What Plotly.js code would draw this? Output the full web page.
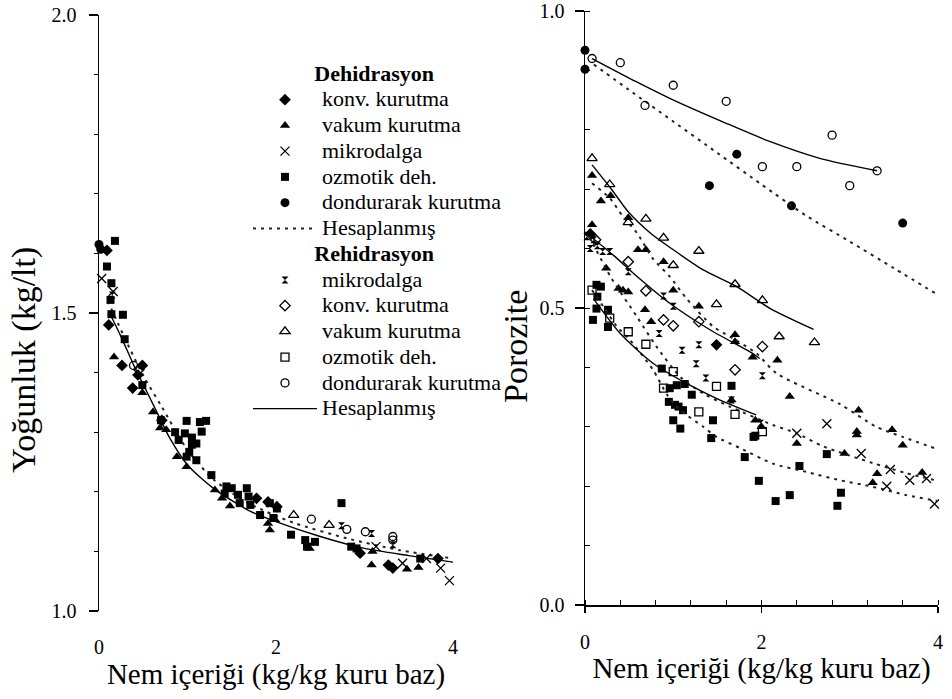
<!DOCTYPE html>
<html><head><meta charset="utf-8">
<script src="https://cdn.plot.ly/plotly-3.0.1.min.js"></script>
<style>html,body{margin:0;padding:0;background:#fff}#chart{width:952px;height:699px}</style>
</head><body><div id="chart"></div>
<script>
// ---------- LEFT PANEL: Yoğunluk (kg/lt) ----------
const L_dehKonvX = [0.09,0.11,0.26,0.49,0.44,0.38,0.71,1.78,1.91,2.01,2.95,3.27,3.32,3.83];
const L_dehKonvY = [1.605,1.480,1.412,1.412,1.396,1.374,1.320,1.189,1.183,1.175,1.097,1.077,1.072,1.088];
const L_dehVakumX = [0.17,0.49,0.61,0.69,0.76,0.88,0.99,1.31,1.39,1.48,1.91,1.93,1.99,2.38,3.09,3.08,3.48,3.61];
const L_dehVakumY = [1.426,1.366,1.334,1.307,1.304,1.259,1.242,1.203,1.189,1.176,1.147,1.136,1.153,1.105,1.100,1.077,1.070,1.073];
const L_dehMikroX = [0.03,0.16,3.13,3.43,3.70,3.86,3.96];
const L_dehMikroY = [1.558,1.536,1.108,1.080,1.088,1.072,1.051];
const L_dehOzmoX = [0.18,0.09,0.14,0.13,0.14,0.27,0.29,0.49,0.70,0.99,1.14,1.21,1.16,0.86,0.97,1.05,0.90,1.05,1.10,1.02,0.99,1.10,1.27,1.44,1.50,1.67,1.42,1.57,1.69,1.59,1.71,1.93,2.01,1.82,1.97,2.17,2.33,2.44,2.35,2.74,2.85,2.91,3.63];
const L_dehOzmoY = [1.621,1.578,1.550,1.522,1.498,1.497,1.456,1.379,1.320,1.319,1.317,1.319,1.301,1.300,1.298,1.291,1.287,1.279,1.281,1.267,1.259,1.253,1.228,1.209,1.206,1.206,1.197,1.195,1.192,1.181,1.178,1.181,1.172,1.161,1.156,1.128,1.119,1.116,1.108,1.181,1.108,1.105,1.088];
const L_dehDondX = [0.0,0.02];
const L_dehDondY = [1.615,1.607];
const L_rehMikroX = [0.15,2.74,3.08,3.32];
const L_rehMikroY = [1.53,1.143,1.130,1.111];
const L_rehKonvX = [0.45];
const L_rehKonvY = [1.405];
const L_rehVakumX = [2.20,2.60];
const L_rehVakumY = [1.161,1.144];
const L_rehDondX = [0.39,2.40,2.80,3.01,3.32,3.32];
const L_rehDondY = [1.412,1.154,1.137,1.133,1.125,1.119];
const L_calcRehX = [0.12,0.25,0.4,0.5,0.65,0.8,1.0,1.3,1.7,2.0,2.5,3.0,3.5,4.0];
const L_calcRehY = [1.50,1.46,1.41,1.38,1.335,1.29,1.245,1.205,1.168,1.150,1.125,1.105,1.093,1.082];
const L_calcDehX = [0.1,0.3,0.5,0.7,1.0,1.3,1.7,2.2,2.8,3.4,4.0];
const L_calcDehY = [1.52,1.455,1.395,1.345,1.27,1.22,1.18,1.148,1.122,1.102,1.088];

// ---------- RIGHT PANEL: Porozite ----------
const R_dehKonvX = [0.06,1.49];
const R_dehKonvY = [0.625,0.438];
const R_dehVakumX = [0.08,0.18,0.29,0.49,0.60,0.69,0.08,0.24,0.89,0.38,0.43,0.49,1.00,1.29,0.68,0.75,1.70,1.70,1.90,2.18,1.66,1.93,2.32,3.10,3.08,3.08,3.48,3.60,2.00,2.40,2.94,3.31,3.82,3.26];
const R_dehVakumY = [0.723,0.680,0.689,0.652,0.598,0.598,0.640,0.567,0.578,0.533,0.530,0.527,0.530,0.503,0.497,0.477,0.455,0.443,0.417,0.412,0.345,0.311,0.351,0.328,0.292,0.286,0.295,0.269,0.300,0.272,0.255,0.221,0.223,0.206];
const R_dehMikroX = [2.74,3.13,3.46,3.68,3.87,3.42,3.96,2.40];
const R_dehMikroY = [0.305,0.255,0.228,0.210,0.213,0.200,0.170,0.289];
const R_dehOzmoX = [0.13,0.18,0.14,0.13,0.26,0.09,0.26,0.87,0.96,1.04,1.13,1.21,0.95,1.02,1.06,1.11,1.00,1.08,1.66,1.45,1.93,1.43,1.91,1.81,1.97,2.16,2.32,2.74,2.43,2.90,2.86];
const R_dehOzmoY = [0.539,0.536,0.519,0.499,0.497,0.480,0.468,0.398,0.365,0.370,0.372,0.354,0.342,0.337,0.334,0.328,0.311,0.297,0.369,0.311,0.285,0.281,0.283,0.249,0.209,0.175,0.185,0.254,0.234,0.189,0.167];
const R_dehDondX = [0.0,0.0,1.72,1.41,2.34,3.60];
const R_dehDondY = [0.934,0.902,0.759,0.706,0.672,0.643];
const R_rehMikroX = [0.02,0.06,0.10,0.14,0.20,0.28,0.49,0.89,1.00,0.84,1.29,1.10,1.26,1.37,2.01,1.66,1.99];
const R_rehMikroY = [0.620,0.600,0.615,0.605,0.595,0.595,0.561,0.520,0.503,0.457,0.438,0.429,0.406,0.382,0.386,0.345,0.306];
const R_rehKonvX = [0.49,0.69,0.89,1.00,1.29,1.70,2.01,0.12];
const R_rehKonvY = [0.578,0.529,0.480,0.470,0.477,0.396,0.435,0.615];
const R_rehVakumX = [0.08,0.28,0.49,0.69,0.89,1.29,1.00,1.49,1.70,2.01,2.20,2.60];
const R_rehVakumY = [0.752,0.708,0.644,0.650,0.618,0.596,0.572,0.506,0.540,0.513,0.452,0.442];
const R_rehOzmoX = [0.08,0.28,0.49,0.69,1.00,0.89,1.49,1.29,1.70,2.01];
const R_rehOzmoY = [0.530,0.483,0.460,0.439,0.393,0.365,0.368,0.325,0.321,0.292];
const R_rehDondX = [0.08,0.40,1.00,0.68,1.60,2.80,2.01,2.40,3.31,3.00];
const R_rehDondY = [0.920,0.913,0.875,0.841,0.848,0.791,0.738,0.738,0.731,0.706];
const R_calcDehDondX = [0.1,0.5,1.0,1.5,2.0,2.5,3.0,3.5,4.0];
const R_calcDehDondY = [0.910,0.867,0.814,0.761,0.708,0.656,0.612,0.567,0.522];
const R_calcDehVakumX = [0.08,0.28,0.43,0.59,0.77,0.96,1.15,1.45,1.64,1.94,2.17,2.89,3.30,3.60,4.0];
const R_calcDehVakumY = [0.71,0.685,0.654,0.626,0.583,0.553,0.516,0.469,0.452,0.424,0.390,0.338,0.300,0.283,0.262];
const R_calcDehMikroX = [0.05,0.3,0.59,0.81,1.08,1.34,1.64,2.13,2.40,2.70,3.26,3.64,4.0];
const R_calcDehMikroY = [0.62,0.55,0.485,0.435,0.384,0.356,0.334,0.303,0.289,0.267,0.239,0.222,0.209];
const R_calcDehOzmoX = [0.08,0.21,0.36,0.51,0.77,0.93,1.08,1.34,1.49,1.76,2.13,2.51,2.89,3.26,3.64,4.0];
const R_calcDehOzmoY = [0.53,0.502,0.469,0.446,0.396,0.354,0.328,0.300,0.283,0.264,0.238,0.224,0.210,0.199,0.185,0.175];
const R_calcRehDondX = [0.08,0.58,0.96,1.60,2.10,2.66,3.31];
const R_calcRehDondY = [0.920,0.881,0.853,0.811,0.780,0.752,0.731];
const R_calcRehVakumX = [0.08,0.3,0.49,0.75,1.0,1.34,1.72,2.10,2.59];
const R_calcRehVakumY = [0.741,0.70,0.662,0.625,0.598,0.564,0.536,0.499,0.464];
const R_calcRehMikroX = [0.0,0.32,0.59,0.96,1.42,1.87,1.98];
const R_calcRehMikroY = [0.628,0.589,0.553,0.508,0.463,0.426,0.415];
const R_calcRehOzmoX = [0.1,0.40,0.77,1.15,1.53,1.94];
const R_calcRehOzmoY = [0.515,0.457,0.407,0.373,0.345,0.320];

// ---------- Tick labels & texts ----------
const xTickVals = [0,2,4];
const xTickText = ['0','2','4'];
const yLeftTickVals = [1.0,1.5,2.0];
const yLeftTickText = ['1.0','1.5','2.0'];
const yRightTickVals = [0.0,0.5,1.0];
const yRightTickText = ['0.0','0.5','1.0'];
const groupNames = ['Dehidrasyon','Rehidrasyon'];
const seriesNames = {konv:'konv. kurutma', vakum:'vakum kurutma', mikro:'mikrodalga', ozmo:'ozmotik deh.', dond:'dondurarak kurutma', calc:'Hesaplanmış'};
const xTitle = 'Nem içeriği (kg/kg kuru baz)';
const yLeftTitle = 'Yoğunluk (kg/lt)';
const yRightTitle = 'Porozite';

const FONT = 'Liberation Serif, "Times New Roman", serif';
const BIG = s => '<span style="font-size:22px">' + s + '</span>';
const NB = n => '\u00a0'.repeat(n);
const PAD = n => '<span>' + NB(n) + '</span>';

function pts(name, group, xs, ys, symbol, size, open, xa, ya, showlegend, gtitle) {
  const t = {
    type:'scatter', mode:'markers', x:xs, y:ys, name:BIG(name), legendgroup:group,
    showlegend:showlegend, xaxis:xa, yaxis:ya, cliponaxis:false, hoverinfo:'skip',
    marker:{symbol:symbol, size:size, color:'#000', line:{color:'#000', width: open ? 1.3 : 0}}
  };
  if (gtitle) t.legendgrouptitle = {text: gtitle, font:{family:FONT, size:17.5, color:'#000'}};
  return t;
}
function curve(name, group, xs, ys, dash, xa, ya, showlegend) {
  return {type:'scatter', mode:'lines', x:xs, y:ys, name:BIG(name), legendgroup:group,
    showlegend:showlegend, xaxis:xa, yaxis:ya, hoverinfo:'skip',
    line:{color: dash ? '#222' : '#000', width: dash ? 2 : 1.4, dash: dash ? '3px,5px' : 'solid', shape:'spline', smoothing:0.7}};
}
const gT = n => NB(14) + BIG('<b>' + n + '</b>');

const data = [
  // legend-visible traces (right panel)
  pts(seriesNames.konv,'deh',R_dehKonvX,R_dehKonvY,'diamond',9,false,'x2','y2',true,gT(groupNames[0])),
  pts(seriesNames.vakum,'deh',R_dehVakumX,R_dehVakumY,'triangle-up',9,false,'x2','y2',true),
  pts(seriesNames.mikro,'deh',R_dehMikroX,R_dehMikroY,'x-thin-open',9,true,'x2','y2',true),
  pts(seriesNames.ozmo,'deh',R_dehOzmoX,R_dehOzmoY,'square',8,false,'x2','y2',true),
  pts(seriesNames.dond,'deh',R_dehDondX,R_dehDondY,'circle',9,false,'x2','y2',true),
  curve(seriesNames.calc,'deh',R_calcDehDondX,R_calcDehDondY,true,'x2','y2',true),
  curve(seriesNames.calc,'deh',R_calcDehVakumX,R_calcDehVakumY,true,'x2','y2',false),
  curve(seriesNames.calc,'deh',R_calcDehMikroX,R_calcDehMikroY,true,'x2','y2',false),
  curve(seriesNames.calc,'deh',R_calcDehOzmoX,R_calcDehOzmoY,true,'x2','y2',false),
  pts(seriesNames.mikro,'reh',R_rehMikroX,R_rehMikroY,'hourglass',7,false,'x2','y2',true,gT(groupNames[1])),
  pts(seriesNames.konv,'reh',R_rehKonvX,R_rehKonvY,'diamond-open',8,true,'x2','y2',true),
  pts(seriesNames.vakum,'reh',R_rehVakumX,R_rehVakumY,'triangle-up-open',9,true,'x2','y2',true),
  pts(seriesNames.ozmo,'reh',R_rehOzmoX,R_rehOzmoY,'square-open',8,true,'x2','y2',true),
  pts(seriesNames.dond,'reh',R_rehDondX,R_rehDondY,'circle-open',8,true,'x2','y2',true),
  curve(seriesNames.calc,'reh',R_calcRehDondX,R_calcRehDondY,false,'x2','y2',true),
  curve(seriesNames.calc,'reh',R_calcRehVakumX,R_calcRehVakumY,false,'x2','y2',false),
  curve(seriesNames.calc,'reh',R_calcRehMikroX,R_calcRehMikroY,false,'x2','y2',false),
  curve(seriesNames.calc,'reh',R_calcRehOzmoX,R_calcRehOzmoY,false,'x2','y2',false),
  // left panel
  curve(seriesNames.calc,'deh',L_calcDehX,L_calcDehY,true,'x','y',false),
  curve(seriesNames.calc,'reh',L_calcRehX,L_calcRehY,false,'x','y',false),
  pts(seriesNames.konv,'deh',L_dehKonvX,L_dehKonvY,'diamond',9,false,'x','y',false),
  pts(seriesNames.vakum,'deh',L_dehVakumX,L_dehVakumY,'triangle-up',9,false,'x','y',false),
  pts(seriesNames.mikro,'deh',L_dehMikroX,L_dehMikroY,'x-thin-open',9,true,'x','y',false),
  pts(seriesNames.ozmo,'deh',L_dehOzmoX,L_dehOzmoY,'square',8,false,'x','y',false),
  pts(seriesNames.dond,'deh',L_dehDondX,L_dehDondY,'circle',9,false,'x','y',false),
  pts(seriesNames.mikro,'reh',L_rehMikroX,L_rehMikroY,'hourglass',7,false,'x','y',false),
  pts(seriesNames.konv,'reh',L_rehKonvX,L_rehKonvY,'diamond-open',8,true,'x','y',false),
  pts(seriesNames.vakum,'reh',L_rehVakumX,L_rehVakumY,'triangle-up-open',9,true,'x','y',false),
  pts(seriesNames.dond,'reh',L_rehDondX,L_rehDondY,'circle-open',8,true,'x','y',false)
];

const W = 952, H = 699;
const tickFont = {family:FONT, size:20, color:'#000'};
const xTitleFont = {family:FONT, size:29, color:'#000'};
const yTitleFont = {family:FONT, size:34, color:'#000'};

const layout = {
  width:W, height:H, margin:{l:0,r:0,t:0,b:0}, paper_bgcolor:'#fff', plot_bgcolor:'rgba(0,0,0,0)',
  font:{family:FONT, color:'#000'}, hovermode:false,
  xaxis:{domain:[99/W,453/W], range:[0,4], anchor:'y', showline:false, zeroline:false, showgrid:false,
    tickmode:'array', tickvals:xTickVals, ticktext:xTickText, ticks:'', ticklabelstandoff:22, tickfont:tickFont,
    title:{text:xTitle, font:xTitleFont, standoff:4}},
  yaxis:{domain:[(H-611)/H,(H-15)/H], range:[1,2], anchor:'x', showline:true, linecolor:'#000', linewidth:1.5,
    zeroline:false, showgrid:false, tickmode:'array', tickvals:yLeftTickVals, ticktext:yLeftTickText,
    ticks:'outside', ticklen:9, tickwidth:1.3, tickcolor:'#000', ticklabelstandoff:8, tickfont:tickFont,
    minor:{tickmode:'linear', tick0:0, dtick:0.1, ticks:'outside', ticklen:4, tickwidth:1, tickcolor:'#000', showgrid:false},
    title:{text:yLeftTitle + PAD(11), font:yTitleFont, standoff:5}},
  xaxis2:{domain:[585/W,938/W], range:[0,4], anchor:'y2', showline:true, linecolor:'#000', linewidth:1.5,
    zeroline:false, showgrid:false, tickmode:'array', tickvals:xTickVals, ticktext:xTickText,
    ticks:'outside', ticklen:6, tickwidth:1.3, tickcolor:'#000', ticklabelstandoff:12, tickfont:tickFont,
    minor:{tickmode:'linear', tick0:0, dtick:0.4, ticks:'inside', ticklen:5, tickwidth:1, tickcolor:'#000', showgrid:false},
    title:{text:xTitle, font:xTitleFont, standoff:4}},
  yaxis2:{domain:[(H-605)/H,(H-11)/H], range:[0,1], anchor:'x2', showline:true, linecolor:'#000', linewidth:1.5,
    zeroline:false, showgrid:false, tickmode:'array', tickvals:yRightTickVals, ticktext:yRightTickText,
    ticks:'outside', ticklen:9, tickwidth:1.3, tickcolor:'#000', ticklabelstandoff:6, tickfont:tickFont,
    minor:{tickmode:'linear', tick0:0, dtick:0.1, ticks:'inside', ticklen:5, tickwidth:1, tickcolor:'#000', showgrid:false},
    title:{text:yRightTitle + PAD(9), font:yTitleFont, standoff:1}},
  legend:{x:248/W, xanchor:'left', y:(H-56)/H, yanchor:'top', traceorder:'grouped', tracegroupgap:0,
    itemwidth:64, bgcolor:'rgba(0,0,0,0)', borderwidth:0, font:{family:FONT, size:17.5, color:'#000'},
    itemclick:false, itemdoubleclick:false},
  showlegend:true
};

Plotly.newPlot('chart', data, layout, {staticPlot:true, displayModeBar:false});
</script></body></html>
